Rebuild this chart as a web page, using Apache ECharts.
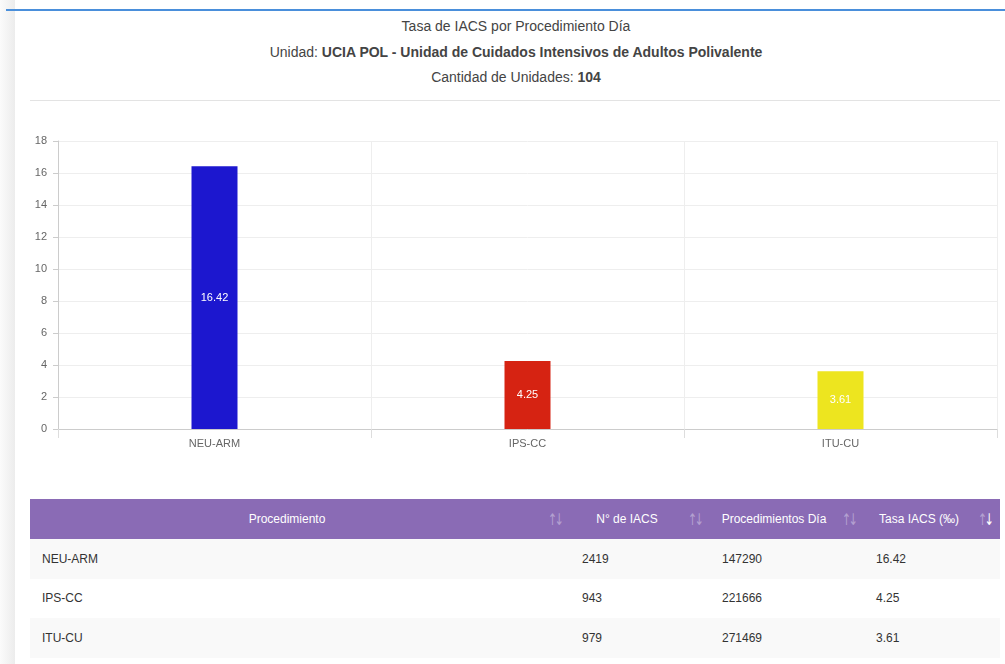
<!DOCTYPE html>
<html>
<head>
<meta charset="utf-8">
<script src="https://cdn.jsdelivr.net/npm/echarts@6/dist/echarts.min.js"></script>
<style>
  body { margin: 0; width: 1005px; height: 664px; overflow: hidden; background: #fff;
         font-family: "Liberation Sans", Arial, sans-serif; position: relative; }
  .side { position: absolute; left: 0; top: 0; width: 15px; height: 664px;
          background: linear-gradient(to right, #fbfbfb, #ececec); }
  .topline { position: absolute; left: 6px; right: 0; top: 9px; height: 2px; background: #4a8fdb; }
  .titles { position: absolute; left: 27px; right: 0; top: 17px; text-align: center; color: #444; font-size: 14px; }
  .titles div { height: 25.5px; line-height: 18px; }
  .sep { position: absolute; left: 30px; width: 970px; top: 100px; height: 1px; background: #e3e3e3; }
  #chart { position: absolute; left: 0; top: 0; width: 1005px; height: 470px; }
  table { position: absolute; left: 30px; top: 499px; width: 970px; border-collapse: collapse;
          table-layout: fixed; font-size: 12px; color: #333; }
  th { background: #8a6bb5; color: #fff; font-weight: normal; height: 40px; padding: 0 26px 0 0;
       text-align: center; position: relative; }
  th .ic { position: absolute; right: 6px; top: 11px; color: #b3a0d0; font-size: 16px; letter-spacing: -4px;
           font-family: "DejaVu Sans", sans-serif; transform: scaleX(0.7); }
  th .ic b { font-weight: normal; }
  th .ic.on b.dn { color: #fff; }
  td { height: 39.5px; padding: 0 12px; }
  tr:nth-child(even) td { background: #f9f9f9; }
</style>
</head>
<body>
<div class="side"></div>
<div class="topline"></div>
<div class="titles">
  <div>Tasa de IACS por Procedimiento Día</div>
  <div>Unidad: <b>UCIA POL - Unidad de Cuidados Intensivos de Adultos Polivalente</b></div>
  <div>Cantidad de Unidades: <b>104</b></div>
</div>
<div class="sep"></div>
<div id="chart"></div>
<table id="tbl"></table>
<script>
// data
const procedimientos = ['NEU-ARM', 'IPS-CC', 'ITU-CU'];
const nIacs = [2419, 943, 979];
const procDias = [147290, 221666, 271469];
const tasas = [16.42, 4.25, 3.61];
const yTicks = [0, 2, 4, 6, 8, 10, 12, 14, 16, 18];

const barColors = ['#1c17cf', '#d62312', '#ede51f'];

const chart = echarts.init(document.getElementById('chart'));
chart.setOption({
  animation: false,
  textStyle: { fontFamily: 'Liberation Sans, Arial, sans-serif' },
  grid: { left: 58, right: 8, top: 141, bottom: 41 },
  xAxis: {
    type: 'category',
    data: procedimientos,
    axisLine: { lineStyle: { color: '#ccc' } },
    axisTick: { show: true, length: 9, lineStyle: { color: '#ddd' } },
    axisLabel: { color: '#666', fontSize: 11, margin: 9 },
    splitLine: { show: true, lineStyle: { color: '#eee' } }
  },
  yAxis: {
    type: 'value',
    min: yTicks[0],
    max: yTicks[yTicks.length - 1],
    interval: 2,
    axisLine: { show: true, lineStyle: { color: '#ccc' } },
    axisTick: { show: true, length: 5, lineStyle: { color: '#ccc' } },
    axisLabel: { color: '#666', fontSize: 11, margin: 11 },
    splitLine: { lineStyle: { color: '#eee' } }
  },
  series: [{
    type: 'bar',
    barWidth: 46,
    data: tasas.map((v, i) => ({ value: v, itemStyle: { color: barColors[i] } })),
    label: {
      show: true, position: 'inside', color: '#fff', fontSize: 11,
      textBorderWidth: 0
    }
  }]
});

// table
const heads = ['Procedimiento', 'N° de IACS', 'Procedimientos Día', 'Tasa IACS (‰)'];
const widths = [540, 140, 154, 136];
let html = '<tr>' + heads.map((h, i) =>
  '<th style="width:' + (widths[i] - 26) + 'px;">' + h +
  '<span class="ic' + (i === 3 ? ' on' : '') + '"><b>↑</b><b class="dn">↓</b></span></th>').join('') + '</tr>';
procedimientos.forEach((p, i) => {
  html += '<tr><td>' + p + '</td><td>' + nIacs[i] + '</td><td>' + procDias[i] + '</td><td>' + tasas[i].toFixed(2) + '</td></tr>';
});
document.getElementById('tbl').innerHTML = html;
</script>
</body>
</html>
